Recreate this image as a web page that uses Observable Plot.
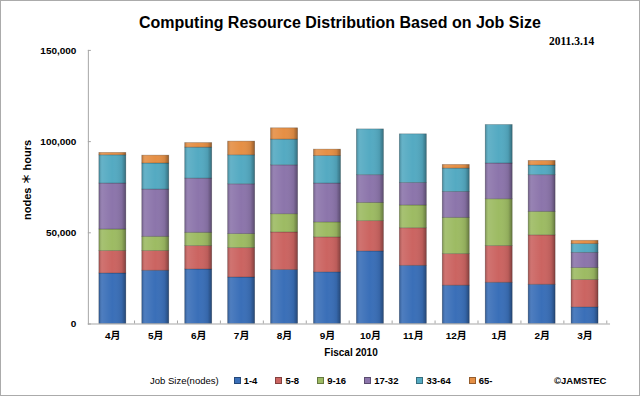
<!DOCTYPE html>
<html>
<head>
<meta charset="utf-8">
<script src="https://cdn.jsdelivr.net/npm/d3@7"></script>
<script src="https://cdn.jsdelivr.net/npm/@observablehq/plot@0.6"></script>
<style>
  html, body { margin: 0; padding: 0; background: #fff; }
  #wrap { position: relative; width: 638px; height: 394px; border: 1px solid #ababab; overflow: hidden;
          font-family: "Liberation Sans", Arial, "Noto Sans CJK JP", sans-serif; color: #000; }
  #chart { position: absolute; left: -1px; top: -1px; }
  .abs { position: absolute; white-space: nowrap; }
  #title { left: 138px; top: 13px; font-size: 16px; font-weight: bold; }
  #date { left: 548px; top: 34px; font-family: "Liberation Serif", "Times New Roman", serif; font-weight: bold; font-size: 11.5px; }
  #ylabel { left: 25px; top: 179px; font-size: 11px; font-weight: bold; transform: translate(-50%, -50%) rotate(-90deg); }
  #xlabel { left: 350px; top: 346px; font-size: 10px; font-weight: bold; transform: translateX(-50%); }
  #legend { left: 149px; top: 374px; display: flex; align-items: center; font-size: 9.5px; }
  #legend .item { display: flex; align-items: center; margin-left: 16px; font-weight: bold; }
  #legend .sw { width: 5px; height: 5px; margin-right: 3px; border: 0.5px solid rgba(0,0,0,0.35); }
  #copy { left: 553px; top: 374px; font-size: 9.5px; font-weight: bold; }
</style>
</head>
<body>
<div id="wrap">
  <div id="chart"></div>
  <div class="abs" id="title">Computing Resource Distribution Based on Job Size</div>
  <div class="abs" id="date">2011.3.14</div>
  <div class="abs" id="ylabel">nodes ＊ hours</div>
  <div class="abs" id="xlabel">Fiscal 2010</div>
  <div class="abs" id="legend"></div>
  <div class="abs" id="copy">©JAMSTEC</div>
</div>
<script>
const months = ["4月","5月","6月","7月","8月","9月","10月","11月","12月","1月","2月","3月"];
const sizes = ["1-4","5-8","9-16","17-32","33-64","65-"];
const s1_4   = [27700, 29200, 29900, 25500, 29600, 28300, 39800, 31900, 21000, 22600, 21500, 9100];
const s5_8   = [12300, 10800, 12800, 16100, 20600, 19200, 16600, 20600, 17300, 20100, 27100, 15000];
const s9_16  = [11800, 7800, 7300, 7700, 10000, 8200, 10000, 12500, 19900, 25700, 12900, 6600];
const s17_32 = [25200, 25900, 29700, 27300, 26800, 21300, 15200, 12300, 14200, 19600, 20100, 8300];
const s33_64 = [15500, 14300, 17000, 15900, 14100, 15100, 25100, 26700, 12800, 21100, 5300, 4800];
const s65    = [1300, 4300, 2500, 7500, 6200, 3500, 0, 0, 2000, 0, 2500, 1800];
const yTicks = [0, 50000, 100000, 150000];
const colors = ["#3a6fb8", "#cb6461", "#9dbb63", "#8c75ab", "#54aac2", "#e58f45"];

const series = [s1_4, s5_8, s9_16, s17_32, s33_64, s65];
const data = [];
series.forEach((vals, i) => vals.forEach((v, j) => data.push({month: months[j], size: sizes[i], value: v})));

const xOpts = {domain: months, range: [88, 610], paddingInner: 0.365, paddingOuter: 0.1825};
const xs = Plot.scale({x: {type: "band", ...xOpts}});
const half = xs.step / 2;

const chart = Plot.plot({
  width: 640, height: 396,
  marginLeft: 88, marginRight: 30, marginTop: 50, marginBottom: 72,
  style: {fontFamily: '"Liberation Sans", Arial, "Noto Sans CJK JP", sans-serif', color: "#000", background: "transparent"},
  x: {...xOpts, axis: null, label: null},
  y: {domain: [0, 150000], axis: null, label: null},
  color: {domain: sizes, range: colors},
  marks: [
    Plot.barY(data, {x: "month", y: "value", fill: "size", stroke: "#000", strokeOpacity: 0.25, strokeWidth: 0.8}),
    Plot.barY(data, {x: "month", y: "value", z: "size", fill: "white", className: "gloss"}),
    Plot.frame({anchor: "left", stroke: "#a6a6a6"}),
    Plot.frame({anchor: "bottom", stroke: "#a6a6a6"}),
    Plot.axisY(yTicks, {label: null, tickSize: 0, tickPadding: 12, tickFormat: d3.format(","), fontWeight: "bold", fontSize: 10}),
    Plot.axisY(yTicks, {label: null, tickSize: -3, text: null, stroke: "#a6a6a6"}),
    Plot.axisX(months, {label: null, tickSize: 0, tickPadding: 8, fontWeight: "bold", fontSize: 10}),
    Plot.axisX(months, {label: null, tickSize: -3, text: null, dx: half, stroke: "#a6a6a6"})
  ]
});

const svg = d3.select(chart);
const defs = svg.insert("defs", ":first-child");
const g = defs.append("linearGradient").attr("id", "gloss").attr("x1", 0).attr("x2", 1).attr("y1", 0).attr("y2", 0);
[[0, "#000", 0.22], [0.12, "#fff", 0.1], [0.5, "#fff", 0.0], [0.85, "#000", 0.08], [1, "#000", 0.35]]
  .forEach(([o, c, a]) => g.append("stop").attr("offset", o).attr("stop-color", c).attr("stop-opacity", a));
svg.selectAll(".gloss rect").attr("fill", "url(#gloss)");

document.getElementById("chart").appendChild(chart);

const legend = d3.select("#legend");
legend.append("span").style("font-weight", "normal").text("Job Size(nodes)");
sizes.forEach((s, i) => {
  const it = legend.append("span").attr("class", "item").style("margin-left", i === 0 ? "15px" : "18px");
  it.append("span").attr("class", "sw").style("background", colors[i]);
  it.append("span").text(s);
});
</script>
</body>
</html>
